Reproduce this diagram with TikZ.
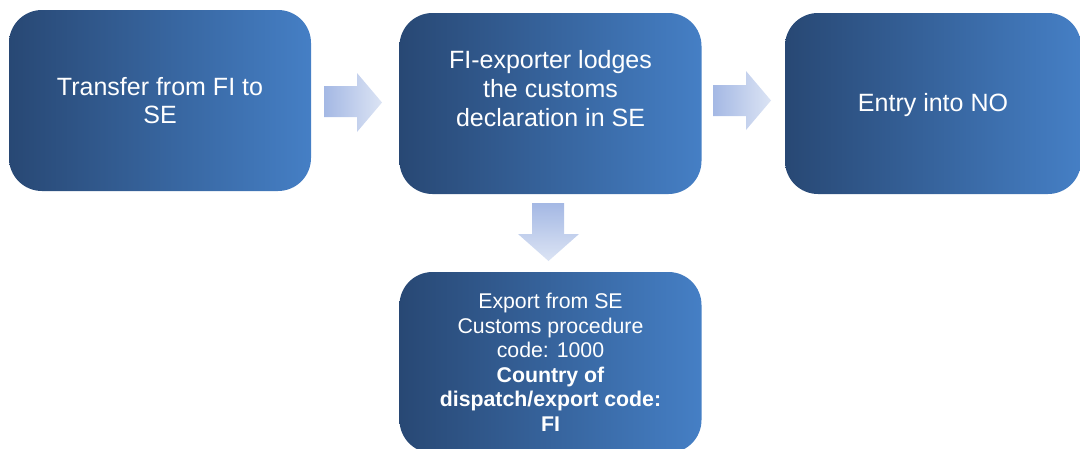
\documentclass[tikz,border=0pt]{standalone}
\usepackage{fontspec}
\setmainfont{Liberation Sans}
\usetikzlibrary{calc}
\definecolor{boxL}{RGB}{40,72,116}
\definecolor{boxR}{RGB}{69,127,197}
\definecolor{arrL}{RGB}{164,184,228}
\definecolor{arrR}{RGB}{220,228,244}
\tikzset{
  stepbox/.style={rounded corners=33pt, left color=boxL, right color=boxR, draw=none,
    minimum width=302pt, minimum height=181pt, inner sep=0pt},
  bigtxt/.style={text=white, align=center, inner sep=0pt, font=\fontsize{25}{28.75}\selectfont},
  smalltxt/.style={text=white, align=center, inner sep=0pt, font=\fontsize{21.3}{24.5}\selectfont},
  harrow/.style={draw=none, left color=arrL, right color=arrR},
  varrow/.style={draw=none, top color=arrL, bottom color=arrR}
}
\begin{document}
\begin{tikzpicture}[x=1pt,y=-1pt]
\useasboundingbox (0,0) rectangle (1080,448);
\node[stepbox] (b1) at (160,100.5) {};
\node[stepbox] (b2) at (550.5,103.5) {};
\node[stepbox, minimum width=296pt] (b3) at (933,103.5) {};
\node[stepbox] (b4) at (550.5,362.5) {};
\node[bigtxt] (t1) at (b1.center) {Transfer from FI to\\SE};
\node[bigtxt] (t2) at ($(b2.center)+(0,-15)$) {FI-exporter lodges\\the customs\\declaration in SE};
\node[bigtxt] (t3) at ($(b3.center)+(0,2)$) {Entry into NO};
\node[smalltxt] (t4) at (b4.center) {Export from SE\\Customs procedure\\code: 1000\\\textbf{Country of}\\\textbf{dispatch/export code:}\\\textbf{FI}};
% block arrows
\path[harrow] (324,86) -- (357,86) -- (357,73) -- (382,102.5) -- (357,132) -- (357,117) -- (324,117) -- cycle;
\path[harrow] (713,85) -- (746,85) -- (746,71) -- (771,100.5) -- (746,130) -- (746,116) -- (713,116) -- cycle;
\path[varrow] (532,203) -- (564,203) -- (564,234) -- (579,234) -- (548.5,261) -- (518,234) -- (532,234) -- cycle;
\end{tikzpicture}
\end{document}
